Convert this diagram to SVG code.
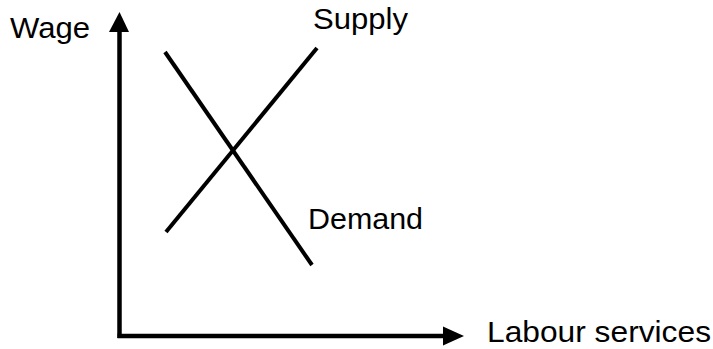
<svg xmlns="http://www.w3.org/2000/svg" width="713" height="349" viewBox="0 0 713 349">
<style>
text{font-family:"Liberation Sans",Arial,sans-serif;font-size:29px;fill:#000}
.ax{stroke:#000;stroke-width:4.5;fill:none}
.cv{stroke:#000;stroke-width:4;fill:none;stroke-linecap:butt}
</style>
<rect width="713" height="349" fill="#fff"/>
<g id="connectors">
<line class="ax" x1="119.5" y1="30" x2="119.5" y2="338"/>
<polygon points="119.5,12 109,32 129,32" fill="#000"/>
<line class="ax" x1="117.5" y1="336" x2="445" y2="336"/>
<polygon points="464,336 443,326.5 443,345.5" fill="#000"/>
</g>
<g id="demand">
<line class="cv" x1="165" y1="52" x2="312" y2="265"/>
<text x="308" y="229" textLength="115" lengthAdjust="spacingAndGlyphs">Demand</text>
</g>
<g id="supply">
<line class="cv" x1="166" y1="232" x2="317" y2="48"/>
<text x="313" y="29" textLength="95" lengthAdjust="spacingAndGlyphs">Supply</text>
</g>
<g id="wage">
<text x="10" y="38" textLength="80" lengthAdjust="spacingAndGlyphs">Wage</text>
</g>
<g id="labour">
<text x="487" y="342" textLength="224" lengthAdjust="spacingAndGlyphs">Labour services</text>
</g>
</svg>
